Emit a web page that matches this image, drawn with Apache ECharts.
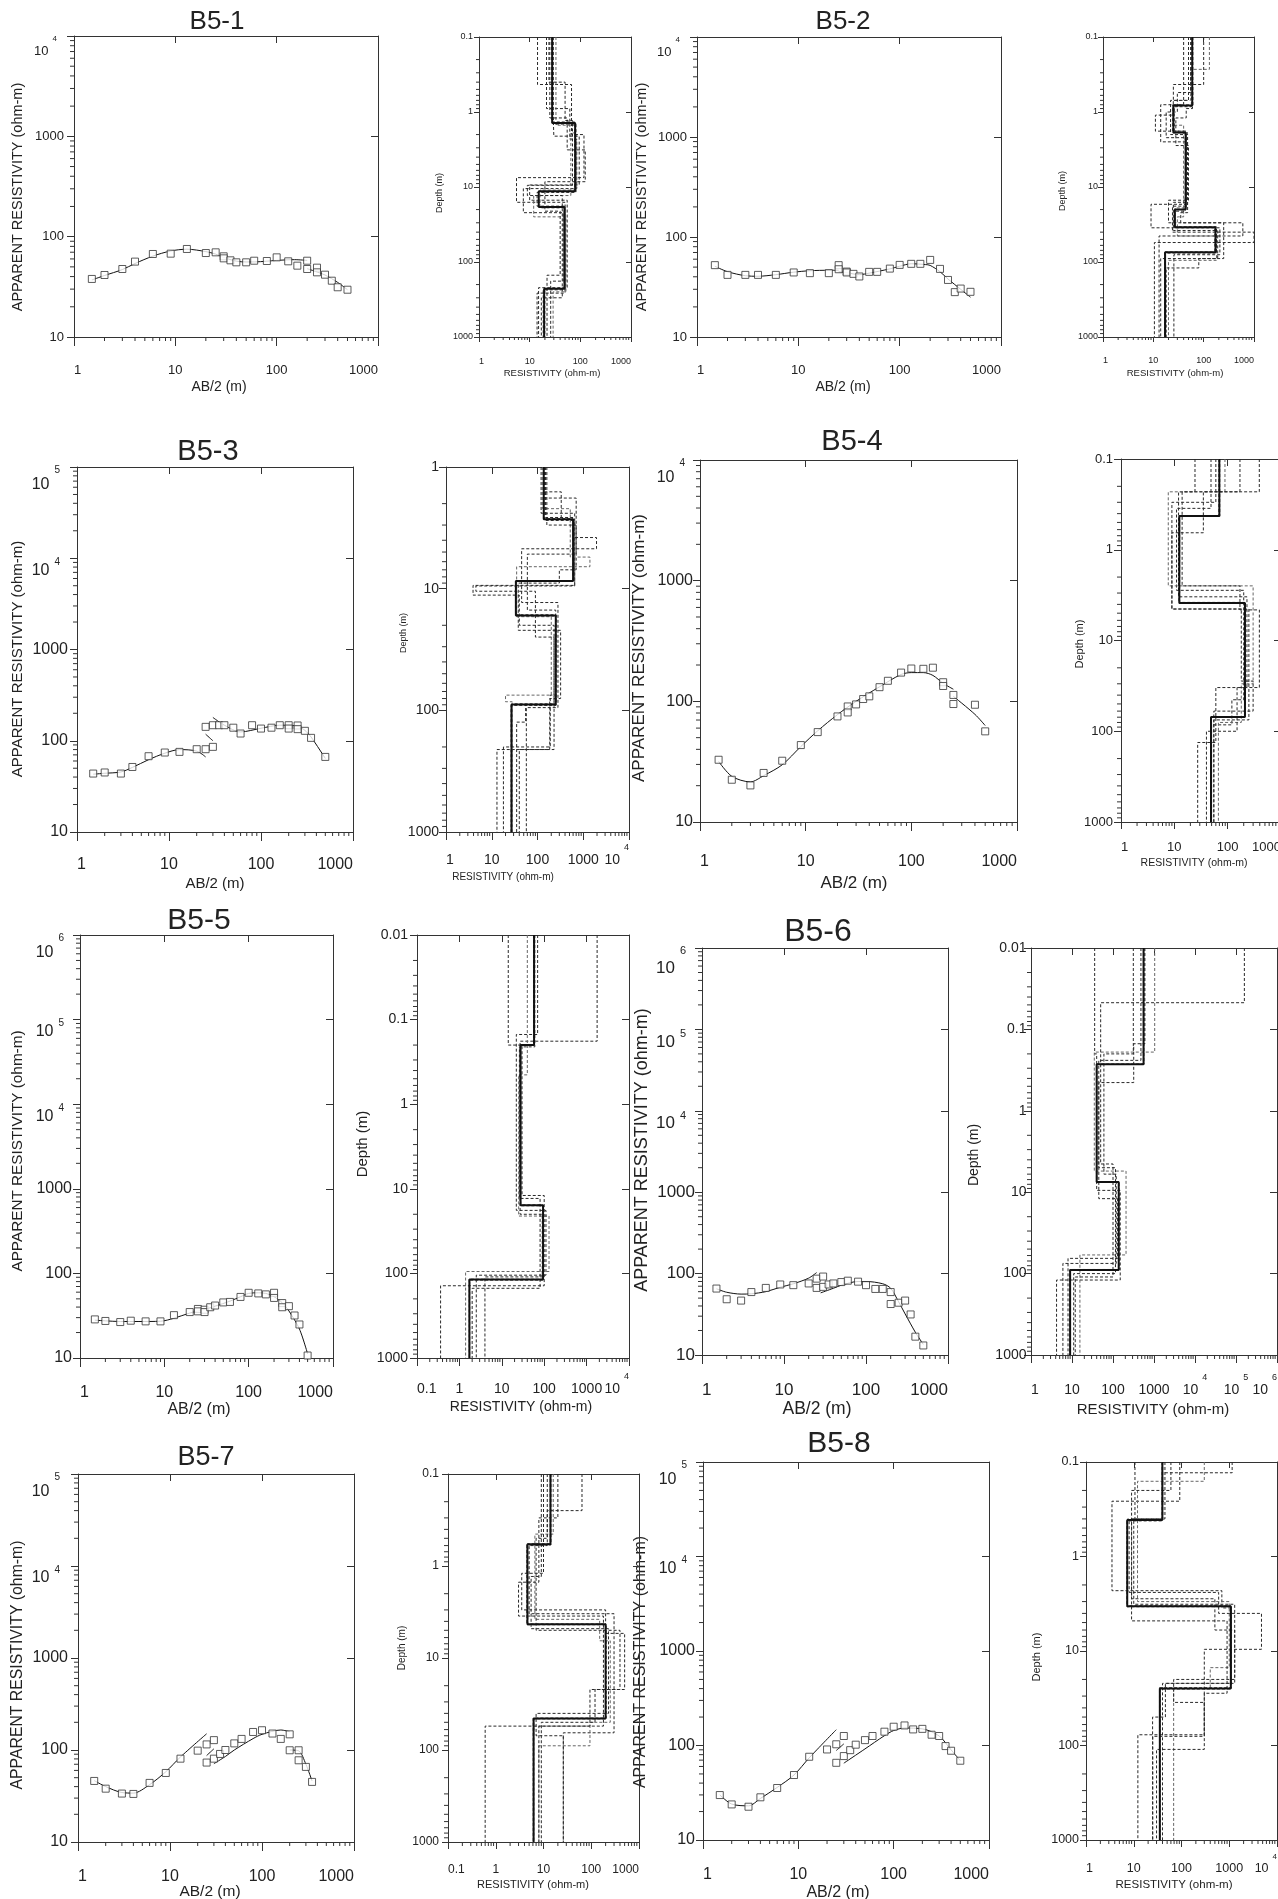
<!DOCTYPE html>
<html><head><meta charset="utf-8">
<script src="https://cdn.jsdelivr.net/npm/echarts@6/dist/echarts.min.js"></script>
<style>html,body{margin:0;padding:0;background:#fff}#c{width:1278px;height:1899px}</style>
</head><body><div id="c"></div>
<script>
// ================= DATA =================
// --- B5-1 ---
const b51_ab  = [1.5,2,3,4,6,9,13,20,25,30,30,35,40,50,60,80,100,130,160,200,200,250,250,300,350,400,500];
const b51_rho = [37.9,41.5,47.6,56.4,67.2,67.7,75.4,68.7,69.8,63.7,60.8,58.1,55.5,55.5,57.6,57.2,62.2,56.8,51.4,57.6,47.6,49.1,44.1,41.8,36.4,31.3,29.6];
const b51_fitA = [[1.5,37],[2,41],[3,47],[4,54],[6,64],[9,72],[13,75],[20,71],[25,67],[30,62],[40,57],[50,56],[60,56],[80,57],[100,58],[150,59],[200,58]];
const b51_fitB = [[200,48],[250,44.5],[300,41.5],[400,35],[500,29.6]];
const b51_best_res = [27.8,79,15.1,48.7,19.3];
const b51_best_dep = [1.4,11.4,18.5,227];
const b51_eq_res = [[14.3,67,118,5.5,50,14],[21.5,62,85,7.5,46,26],[33,80,65,12,52,29],[29,30,95,10,55,15],[25,55,125,20,40,22],[27,77,16,48,20],[29,82,14,50,18.5],[24,50,70,9,44,17]];
const b51_eq_dep = [[0.43,2.0,7.5,16,260],[0.9,2.3,10.5,22,180],[1.5,1.9,13,25,250],[1.05,2.1,9.4,15,220],[1.2,3.2,8.5,21,150],[1.35,11,19,225],[1.45,11.8,18,235],[0.4,1.3,9.5,13,300]];
// --- B5-2 ---
const b52_ab  = [1.5,2,3,4,6,9,13,20,25,25,30,30,35,40,50,60,80,100,130,160,200,250,300,350,400,500];
const b52_rho = [52.3,41.8,41.8,41.8,41.8,44.2,43.5,43.5,52.3,47.6,45.1,44.2,42.8,40.3,44.8,44.8,48.3,52.6,53.9,53.9,59.0,48,37.2,28.1,30.5,28.3];
const b52_fitA = [[1.5,51],[2,45],[3,41],[4,40.5],[6,42],[9,44.5],[13,46],[20,46.5],[25,46.5]];
const b52_fitB = [[25,45],[30,44],[40,42],[50,43.5],[80,48],[100,51],[130,54],[180,53],[200,52],[250,45],[300,38],[400,30],[500,25]];
const b52_best_res = [59.3,25,44,26.8,172,17.1];
const b52_best_dep = [0.82,1.87,20,34.5,74.3];
const b52_eq_res = [[40,25,11,47,24,1000,10.5],[100,40,14,45,9,210,25.6],[130,55,25,40,30,180,20],[60,45,28,50,20,600,13],[50,22,48,35,250,80,18],[57,24,45,27,165,17.5],[61,26,43,26,180,16.8],[55,30,18,45,25,190,14]];
const b52_eq_dep = [[0.43,1.1,1.8,18,40,55],[0.43,0.8,2.5,17,35,80],[0.27,0.7,1.5,25,45,95],[0.9,1.2,2.8,15,30,45],[0.7,2.0,22,30,90,120],[0.8,1.9,19,35,73],[0.85,1.8,21,34,76],[0.55,1.0,2.2,16,38,90]];
// --- B5-3 ---
const b53_ab  = [1.5,2,3,4,6,9,13,20,25,30,25,30,35,40,50,60,80,100,130,160,200,200,250,250,300,350,500];
const b53_rho = [43.7,44.9,43.7,51.6,67.7,74.3,75.5,80.8,80.8,85.7,142,148,148,148,139,120,148,136,139,148,148,136,147,134,128.5,107.6,66.5];
const b53_fitA = [[1.5,43],[2,44],[3,45.5],[4,51],[6,62],[9,73],[13,80],[20,77],[25,66.5]];
const b53_fitB = [[25,118],[30,100]];
const b53_fitC = [[30,180],[40,148],[60,125],[100,137],[160,148],[200,148],[250,144],[300,130],[350,110],[500,64]];
const b53_best_res = [137,600,33.7,251,27];
const b53_best_dep = [2.69,8.65,16.6,89.5];
const b53_eq_res = [[140,330,650,3.9,40,230,13],[150,600,1950,45,280,57],[130,520,1400,35,200,20,28],[160,700,300,38,320,185,40],[120,650,4.5,90,230,55,35],[135,590,34,248,27.5],[140,610,33,255,26.5],[145,700,60,250,190,18]];
const b53_eq_dep = [[1.6,2.7,9.4,11.3,20,210],[2.6,3.8,4.7,13,95],[2.2,5.5,6.6,17,75,85],[3.0,7.0,9.0,22,80,210],[2.4,9.5,10.5,25,90,125],[2.65,8.6,16.8,88],[2.75,8.7,16.4,91],[1.8,5.2,15,75,200]];
// --- B5-4 ---
const b54_ab  = [1.5,2,3,4,6,9,13,20,25,25,30,35,40,50,60,80,100,130,160,200,200,250,250,400,500];
const b54_rho = [32.8,22.4,20.1,25.5,32.2,43.4,55.6,75,90.7,80.9,94.3,104.5,110,131,148,173,187,186,190,144,134,113,95,93.7,56.4];
const b54_fitA = [[1.5,31.8],[2,23.9],[3,21.5],[4,24.2],[6,29.8],[9,42.2],[13,57],[20,77.6],[30,100],[50,132],[80,167],[100,173],[130,173],[160,164],[200,141],[250,126]];
const b54_fitB = [[250,110],[400,78],[500,63]];
const b54_best_res = [69.8,12.4,211,48.7];
const b54_best_dep = [0.426,3.85,69.8];
const b54_eq_res = [[24.4,12,230,60,27.4],[48.7,11,200,120,50],[89,7.7,300,180,67],[392,14,170,393,150,40],[170,35,9,250,55],[68,12.6,208,49],[71,12.2,214,48.4],[60,9,180,300,55]];
const b54_eq_dep = [[0.23,3.3,33,133],[0.35,2.8,45,85],[0.23,2.5,30,80],[0.23,2.5,4.6,33,100],[0.23,0.65,4.5,75],[0.42,3.8,70.5],[0.43,3.9,69],[0.3,4.5,28,60]];
// --- B5-5 ---
const b55_ab  = [1.5,2,3,4,6,9,13,20,25,25,30,30,35,40,50,60,80,100,130,160,200,200,250,250,300,350,400,500];
const b55_rho = [28.6,27.4,26.6,27.6,27.1,27.1,32.1,34.9,38,35.6,37.2,34.9,39.8,41.7,45.4,46,52.7,59,58,56.5,59,51.3,44.6,39.8,41,31.8,24.9,10.7];
const b55_fitA = [[1.5,28],[2,27.5],[3,27],[5,27],[9,27.2],[13,29.5],[20,34],[30,37.5],[40,41],[60,47],[80,53],[100,58],[130,59],[160,58],[200,53],[250,45],[300,36],[400,22],[500,11.2]];
const b55_best_res = [57.7,27.7,94,1.72];
const b55_best_dep = [0.199,15.7,118];
const b55_eq_res = [[14.2,30,100,0.36],[1770,27,90,4],[40,25,130,1.4],[60,26,80,2.0],[56,27.5,92,1.75],[58.5,28,96,1.7],[70,22,110,2.5]];
const b55_eq_dep = [[0.2,12,140],[0.18,20,110],[0.45,21,95],[0.21,13,150],[0.2,15.5,120],[0.198,15.9,117],[0.15,18,105]];
// --- B5-6 ---
const b56_ab  = [1.5,2,3,4,6,9,13,20,25,25,30,30,35,40,50,60,80,100,130,160,200,200,250,300,350,400,500];
const b56_rho = [65.5,48.4,46.6,59.3,66.7,73.5,72.1,75.7,86.7,66.7,92,68.7,73.5,75.7,78.7,81.8,79.6,72.1,64.8,64.8,59.3,42.3,43.9,46.6,31.5,16.8,13.1];
const b56_fitA = [[1.5,65],[2,59],[3,56],[4,56.5],[6,60],[9,68],[13,75],[20,88],[25,103]];
const b56_fitB = [[28,58],[40,66],[50,72],[80,80],[100,80],[160,75],[200,66],[250,45],[300,32],[400,19],[500,13.5]];
const b56_best_res = [557,40,138,9.0];
const b56_best_dep = [0.268,7.5,90];
const b56_eq_res = [[35.7,40,150,4.2],[313,60,120,6],[1040,35,208,15.6],[160000,50,100,12],[600,320,45,130,8],[550,40.5,136,9.1],[565,39.5,140,8.9],[480,45,115,11]];
const b56_eq_dep = [[0.2,9.5,120],[0.2,6,75],[0.19,5.5,59],[0.047,4.5,110],[0.15,0.45,12,65],[0.265,7.4,91],[0.27,7.6,89],[0.24,5,100]];
// --- B5-7 ---
const b57_ab  = [1.5,2,3,4,6,9,13,20,25,25,30,30,35,40,50,60,80,100,130,160,200,200,250,250,300,350];
const b57_rho = [46.1,38,33.6,33.3,43.9,56.3,80.5,98.4,115,73,128,80.5,90.6,100,118,132,157,164,151,132,148,99.3,99.3,77.3,65.5,45];
const b57_fitA = [[1.5,46.5],[2,40],[3,34.5],[4,34],[6,42],[9,58],[13,84],[25,150]];
const b57_fitB = [[25,87],[30,103]];
const b57_fitC = [[30,71],[40,85],[50,100],[80,133],[100,148],[160,165],[200,158]];
const b57_fitD = [[200,100],[250,98],[300,70],[350,46]];
const b57_best_res = [14,4.6,200,6.2];
const b57_best_dep = [0.58,4.3,45.5];
const b57_eq_res = [[10,3.5,200,500,94,0.6],[64,12,5,300,26],[16,6.6,150,250,94,8],[9,5.5,230,7,26],[12,7,400,120,9],[13.8,4.7,198,6.3],[14.3,4.5,205,6.1],[20,8,3,180,8]];
const b57_eq_dep = [[1.2,3.0,5.4,22,55],[0.25,0.6,3.3,65],[0.45,3.8,6.5,50,90],[1.3,4.8,40,70],[0.5,5,22,50],[0.57,4.25,46],[0.59,4.35,45],[0.3,1.5,3.5,55]];
// --- B5-8 ---
const b58_ab  = [1.5,2,3,4,6,9,13,20,25,25,30,30,35,40,50,60,80,100,130,160,200,250,300,350,400,500];
const b58_rho = [29.9,23.8,22.5,28.3,35.5,48.7,76,90.8,103,65.6,126,77.3,89.3,102,114,126,140,158,163,148,150,130,126,98.6,88,69];
const b58_fitA = [[1.5,30],[2,24],[3,23],[4,27.5],[6,36],[9,48.7],[13,74],[25,147]];
const b58_fitB = [[25,88.5],[30,104]];
const b58_fitC = [[30,65],[50,92],[80,127],[100,144],[130,153],[200,150],[300,126],[400,90],[500,69]];
const b58_best_res = [39.7,7.3,1080,35.2];
const b58_best_dep = [0.41,3.36,24.9];
const b58_eq_res = [[10.6,8,600,4730,300,12.2],[92,3.5,700,1100,46,24.8],[300,12,1000,400,68.5],[1150,40,9,900,300,30],[45,10,1300,68.5,300,25],[39,7.4,1060,35.8],[40.5,7.2,1100,34.6],[60,9,500,1300,40]];
const b58_eq_dep = [[0.41,2.4,4,9.6,77],[0.26,2.3,3.5,22,50],[0.16,3.0,15,25],[0.13,0.4,4.8,28,110],[0.4,3.2,20,35,80],[0.4,3.3,25.3],[0.42,3.4,24.5],[0.2,2.8,6,22]];

// ================= LAYOUT =================
const panels = [
 {type:'curve', title:['B5-1',217,22,26], rect:[74,36,378,337], xr:[1,1000], yr:[10,1e4], fs:13, xLabY:370, yGap:10, xName:[219,387,14], yName:[18,197,14.5], ab:b51_ab, rho:b51_rho, fits:[b51_fitA,b51_fitB]},
 {type:'depth', rect:[479,37,631,337], xr:[1,1000], yr:[0.1,1000], fs:9, xLabY:361.7, yGap:6, xName:[552,373,9.5], yName:[440,193,9], best:[b51_best_res,b51_best_dep], eqRes:b51_eq_res, eqDep:b51_eq_dep},
 {type:'curve', title:['B5-2',843,22,26], rect:[697,37,1001,337], xr:[1,1000], yr:[10,1e4], fs:13, xLabY:370.7, yGap:10, xName:[843,387,14], yName:[642,197,14.5], ab:b52_ab, rho:b52_rho, fits:[b52_fitA,b52_fitB]},
 {type:'depth', rect:[1103,37,1254,337], xr:[1,1000], yr:[0.1,1000], fs:9, xLabY:361, yGap:5, xName:[1175,373,9.5], yName:[1063,191,9], best:[b52_best_res,b52_best_dep], eqRes:b52_eq_res, eqDep:b52_eq_dep},
 {type:'curve', title:['B5-3',208,452,29], rect:[77,467,353,832], xr:[1,1000], yr:[10,1e5], fs:16, xLabY:865, yGap:9, xName:[215,884,15], yName:[18,659,15], ab:b53_ab, rho:b53_rho, fits:[b53_fitA,b53_fitB,b53_fitC]},
 {type:'depth', rect:[446,467,629,832], xr:[1,1e4], yr:[1,1000], fs:14, xLabY:860, yGap:7, xName:[503,877,10], yName:[404,633,9], best:[b53_best_res,b53_best_dep], eqRes:b53_eq_res, eqDep:b53_eq_dep},
 {type:'curve', title:['B5-4',852,442,29], rect:[700,460,1017,822], xr:[1,1000], yr:[10,1e4], fs:16, xLabY:862, yGap:7, xName:[854,883,17], yName:[639,648,17], ab:b54_ab, rho:b54_rho, fits:[b54_fitA,b54_fitB]},
 {type:'depth', rect:[1121,459,1281,822], xr:[1,1000], yr:[0.1,1000], fs:13, xLabY:847.7, yGap:8, xName:[1194,863,10.5], yName:[1080,644,11], best:[b54_best_res,b54_best_dep], eqRes:b54_eq_res, eqDep:b54_eq_dep},
 {type:'curve', title:['B5-5',199,921,30], rect:[80,935,333,1358], xr:[1,1000], yr:[10,1e6], fs:16, xLabY:1393, yGap:8, xName:[199,1410,16], yName:[18,1151,15.3], ab:b55_ab, rho:b55_rho, fits:[b55_fitA]},
 {type:'depth', rect:[417,935,629,1358], xr:[0.1,1e4], yr:[0.01,1000], fs:14, xLabY:1389, yGap:9, xName:[521,1407,14], yName:[363,1144,15], best:[b55_best_res,b55_best_dep], eqRes:b55_eq_res, eqDep:b55_eq_dep},
 {type:'curve', title:['B5-6',818,932,32], rect:[702,948,948,1355], xr:[1,1000], yr:[10,1e6], fs:17, xLabY:1390, yGap:7, xName:[817,1409,17.5], yName:[642,1150,18], ab:b56_ab, rho:b56_rho, fits:[b56_fitA,b56_fitB]},
 {type:'depth', rect:[1031,948,1277,1355], xr:[1,1e6], yr:[0.01,1000], fs:14, xLabY:1390, yGap:4.5, xName:[1153,1410,15], yName:[974,1155,14], best:[b56_best_res,b56_best_dep], eqRes:b56_eq_res, eqDep:b56_eq_dep},
 {type:'curve', title:['B5-7',206,1458,27], rect:[78,1474,354,1842], xr:[1,1000], yr:[10,1e5], fs:16, xLabY:1877, yGap:10, xName:[210,1892,15.5], yName:[18,1665,15.8], ab:b57_ab, rho:b57_rho, fits:[b57_fitA,b57_fitB,b57_fitC,b57_fitD]},
 {type:'depth', rect:[448,1474,639,1842], xr:[0.1,1000], yr:[0.1,1000], fs:12, xLabY:1870, yGap:9, xName:[533,1885,11], yName:[402,1648,10], best:[b57_best_res,b57_best_dep], eqRes:b57_eq_res, eqDep:b57_eq_dep},
 {type:'curve', title:['B5-8',839,1444,30], rect:[703,1462,989,1840], xr:[1,1000], yr:[10,1e5], fs:16, xLabY:1875, yGap:8, xName:[838,1893,16], yName:[641,1662,16], ab:b58_ab, rho:b58_rho, fits:[b58_fitA,b58_fitB,b58_fitC]},
 {type:'depth', rect:[1086,1462,1277,1840], xr:[1,1e4], yr:[0.1,1000], fs:12.5, xLabY:1868, yGap:7, xName:[1174,1885,11.5], yName:[1037,1657,11], best:[b58_best_res,b58_best_dep], eqRes:b58_eq_res, eqDep:b58_eq_dep}
];

// ================= HELPERS =================
const FONT = '"Liberation Sans", Arial, Helvetica, sans-serif';
const INK = '#222';
const AXC = '#333';

function expOf(v){ return Math.round(Math.log(v)/Math.LN10); }
function plainLabel(e){ return e >= 0 ? String(Math.pow(10,e)) : Math.pow(10,e).toFixed(-e); }
function fmtX(v){ const e = expOf(v); return e >= 4 ? '{b|10}{s|' + e + '}' : '{b|' + plainLabel(e) + '}'; }
function makeFmtY(maxV){
  const maxE = expOf(maxV);
  return function(v){
    const e = expOf(v);
    if (e >= 4) return e === maxE ? '{bt|10}{st|' + e + '}' : '{b|10}{s|' + e + '}';
    return '{n|' + plainLabel(e) + '}';
  };
}
function richX(fs){
  const sf = Math.round(fs*0.62), P = Math.round(fs*0.7);
  return {
    b:{fontSize:fs, fontFamily:FONT, color:INK, padding:[P,0,0,0], verticalAlign:'top'},
    s:{fontSize:sf, fontFamily:FONT, color:INK, padding:[0,0,0,Math.round(fs*0.3)], verticalAlign:'top'}
  };
}
function richY(fs){
  const sf = Math.round(fs*0.62);
  function pair(offF, supF){
    const off = Math.round(fs*offF), P2 = 2*off, H = P2 + fs;
    const P1 = Math.max(0, Math.round(H/2 + supF*fs));
    return [
      {fontSize:fs, fontFamily:FONT, color:INK, padding:[P2,0,0,0], verticalAlign:'top'},
      {fontSize:sf, fontFamily:FONT, color:INK, padding:[P1,Math.round(fs*0.5),0,Math.round(fs*0.3)], verticalAlign:'top'}
    ];
  }
  const mid = pair(0.75, -0.05), top = pair(1.15, -0.15);
  return {n:{fontSize:fs, fontFamily:FONT, color:INK}, b:mid[0], s:mid[1], bt:top[0], st:top[1]};
}
// minor tick positions (axis decoration: 2..9 x 10^n inside the axis range)
function minorVals(a,b){
  const out = [];
  for (let e = Math.floor(Math.log10(a)); e <= Math.ceil(Math.log10(b)); e++)
    for (let k = 2; k <= 9; k++){ const v = k*Math.pow(10,e); if (v > a*1.0001 && v < b*0.9999) out.push(v); }
  return out;
}
// step polyline of a layered earth model built from its layer arrays
function stepPoints(res, dep, top, bottom){
  const pts = [[res[0], top]];
  for (let j = 0; j < dep.length; j++){ pts.push([res[j], dep[j]]); pts.push([res[j+1], dep[j]]); }
  pts.push([res[res.length-1], bottom]);
  return pts;
}
function txt(s, x, y, fs, rot){
  return {type:'text', x:x, y:y, rotation: rot ? Math.PI/2 : 0, silent:true,
    style:{text:s, font: fs + 'px ' + FONT, fill:INK, textAlign:'center', textVerticalAlign:'middle', align:'center', verticalAlign:'middle'}};
}

// ================= OPTION =================
const option = {animation:false, backgroundColor:'#fff', grid:[], xAxis:[], yAxis:[], series:[], graphic:[]};

panels.forEach((p, i) => {
  const [L,T,R,B] = p.rect;
  const depth = p.type === 'depth';
  const fs = p.fs;
  const majIn = depth ? Math.round(fs*0.5) : 7;
  const majL = depth ? Math.round(fs*0.5) : 7;
  const majB = depth ? Math.round(fs*0.55) : 9;
  const minLen = depth ? Math.max(2, Math.round(fs*0.3)) : 4;
  option.grid.push({left:L, top:T, width:R-L, height:B-T, containLabel:false, outerBoundsMode:'none', show:false});
  const Px = Math.round(fs*0.7);
  const xMargin = p.xLabY - B - Px - fs/2;
  const base = {type:'log', logBase:10, gridIndex:i, splitLine:{show:false}, minorTick:{show:false}, minorSplitLine:{show:false}, axisPointer:{show:false}};
  option.xAxis.push(Object.assign({}, base, {position:'bottom', min:p.xr[0], max:p.xr[1],
    axisLine:{show:true, onZero:false, lineStyle:{color:AXC, width:1}},
    axisTick:{show:true, inside:false, length:majB, lineStyle:{color:AXC, width:1}},
    axisLabel:{show:true, margin:xMargin, formatter:fmtX, rich:richX(fs), fontSize:fs, fontFamily:FONT, color:INK,
      showMinLabel:true, showMaxLabel:true, hideOverlap:false, alignMinLabel:'left', alignMaxLabel:'right'}}));
  option.xAxis.push(Object.assign({}, base, {position:'top', min:p.xr[0], max:p.xr[1],
    axisLine:{show:true, onZero:false, lineStyle:{color:AXC, width:1}},
    axisTick:{show:true, inside:true, length:majIn, lineStyle:{color:AXC, width:1}},
    axisLabel:{show:false}}));
  option.yAxis.push(Object.assign({}, base, {position:'left', min:p.yr[0], max:p.yr[1], inverse:depth,
    axisLine:{show:true, onZero:false, lineStyle:{color:AXC, width:1}},
    axisTick:{show:true, inside:false, length:majL, lineStyle:{color:AXC, width:1}},
    axisLabel:{show:true, margin:p.yGap, formatter:makeFmtY(p.yr[1]), rich:richY(fs), fontSize:fs, fontFamily:FONT, color:INK,
      showMinLabel:true, showMaxLabel:true, hideOverlap:false}}));
  option.yAxis.push(Object.assign({}, base, {position:'right', min:p.yr[0], max:p.yr[1], inverse:depth,
    axisLine:{show:true, onZero:false, lineStyle:{color:AXC, width:1}},
    axisTick:{show:true, inside:true, length:majIn, lineStyle:{color:AXC, width:1}},
    axisLabel:{show:false}}));
  const xi = 2*i, yi = 2*i;

  // minor ticks (bottom and left axes)
  const mt = minorVals(p.xr[0], p.xr[1]).map(v => [v, p.yr[0], 0])
    .concat(minorVals(p.yr[0], p.yr[1]).map(v => [p.xr[0], v, 1]));
  option.series.push({type:'custom', xAxisIndex:xi, yAxisIndex:yi, clip:false, silent:true, z:1,
    encode:{x:0, y:1}, data:mt,
    renderItem:(params, api) => {
      const cs = params.coordSys; const k = api.value(2);
      const pt = api.coord([api.value(0), api.value(1)]);
      if (k === 0){ const yb = cs.y + cs.height; return {type:'line', shape:{x1:pt[0], y1:yb, x2:pt[0], y2:yb+minLen}, style:{stroke:AXC, lineWidth:1}}; }
      return {type:'line', shape:{x1:cs.x, y1:pt[1], x2:cs.x-minLen, y2:pt[1]}, style:{stroke:AXC, lineWidth:1}};
    }});

  if (!depth){
    p.fits.forEach(f => option.series.push({type:'line', xAxisIndex:xi, yAxisIndex:yi, data:f, smooth:0.3,
      symbol:'none', showSymbol:false, silent:true, z:2, lineStyle:{color:'#111', width:1}}));
    option.series.push({type:'scatter', xAxisIndex:xi, yAxisIndex:yi, data:p.ab.map((a,j)=>[a, p.rho[j]]),
      symbol:'rect', symbolSize:7, silent:true, z:3, itemStyle:{color:'#fff', borderColor:'#333', borderWidth:1}});
    option.graphic.push(txt(p.title[0], p.title[1], p.title[2], p.title[3], false));
    option.graphic.push(txt('AB/2 (m)', p.xName[0], p.xName[1], p.xName[2], false));
    option.graphic.push(txt('APPARENT RESISTIVITY (ohm-m)', p.yName[0], p.yName[1], p.yName[2], true));
  } else {
    p.eqRes.forEach((r, j) => option.series.push({type:'line', xAxisIndex:xi, yAxisIndex:yi,
      data:stepPoints(r, p.eqDep[j], p.yr[0], p.yr[1]), symbol:'none', showSymbol:false, silent:true, z:2,
      lineStyle:{color: j % 3 === 2 ? '#666' : '#2a2a2a', width:1, type:[3,2]}}));
    option.series.push({type:'line', xAxisIndex:xi, yAxisIndex:yi,
      data:stepPoints(p.best[0], p.best[1], p.yr[0], p.yr[1]), symbol:'none', showSymbol:false, silent:true, z:3,
      lineStyle:{color:'#111', width:2}});
    option.graphic.push(txt('RESISTIVITY (ohm-m)', p.xName[0], p.xName[1], p.xName[2], false));
    option.graphic.push(txt('Depth (m)', p.yName[0], p.yName[1], p.yName[2], true));
  }
});

const chart = echarts.init(document.getElementById('c'), null, {renderer:'canvas', width:1278, height:1899});
chart.setOption(option);
</script>
</body></html>
